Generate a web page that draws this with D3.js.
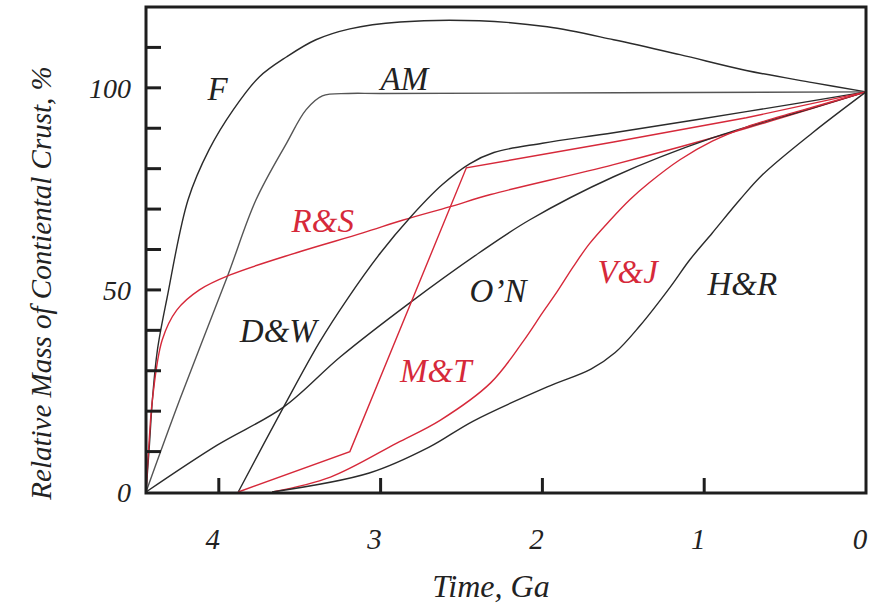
<!DOCTYPE html>
<html>
<head>
<meta charset="utf-8">
<title>Continental crust growth models</title>
<script src="https://d3js.org/d3.v7.min.js"></script>
<style>
  body { margin: 0; background: #fff; }
  text { font-family: "Liberation Serif", "Times New Roman", serif; font-style: italic; }
  .curve { fill: none; stroke-width: 1.4px; }
</style>
</head>
<body>
<script>
// growth curves, [time Ga, relative mass %]
var curveF = [[4.45,0],[4.43,11],[4.41,23],[4.38,35],[4.32,48],[4.19,72.3],[4.06,84.7],[3.91,94.6],[3.75,102.7],[3.58,107.7],[3.4,111.9],[3.19,114.6],[2.88,116.3],[2.39,116.6],[1.97,115.1],[1.56,111.9],[1.15,108.2],[0.74,104.3],[0.33,101.3],[0,99]];
var curveAM = [[4.45,0],[4.24,23],[3.95,53],[3.77,72.3],[3.58,86.4],[3.46,94.6],[3.36,98],[3.2,98.6],[3.0,98.6],[0,99]];
var curveRS = [[4.45,0],[4.43,13],[4.41,23],[4.35,37.6],[4.26,45],[4.12,50],[3.93,53.7],[3.52,59.2],[3.11,64.1],[2.86,67.3],[2.57,70.6],[2.32,73.6],[1.56,81],[0.74,90],[0,99]];
var curveDW = [[3.88,0],[3.6,21],[3.38,36.9],[3.21,47.5],[3.0,59.2],[2.82,67.8],[2.62,76],[2.45,81.2],[2.3,84],[2.0,86.3],[1.56,88.9],[0.74,94.1],[0,99]];
var curveON = [[4.45,0],[4.01,11.6],[3.6,21],[3.25,33.4],[2.82,46.8],[2.39,59.2],[2.08,67.3],[1.56,78],[0.95,87.6],[0.33,95],[0,99]];
var curveMT = [[3.88,0],[3.19,10],[2.47,80.2],[1.56,86.6],[0.74,92.6],[0,99]];
var curveVJ = [[3.67,0],[3.31,3.7],[2.9,12.1],[2.63,17.8],[2.32,27],[2.12,37.2],[2.0,44.3],[1.91,49.5],[1.81,55.7],[1.71,61.4],[1.58,67.3],[1.46,72.3],[1.34,76.5],[1.15,82.2],[0.95,86.8],[0.74,90.3],[0.53,92.9],[0.33,95.2],[0,99]];
var curveHR = [[3.67,0],[3.07,4.7],[2.7,11.1],[2.43,17.5],[1.97,26],[1.7,30.4],[1.55,34.5],[1.4,41],[1.21,50.7],[1.09,57.4],[0.95,64.1],[0.78,72.3],[0.64,78.5],[0.33,88.9],[0,99]];

var seriesNames = ["F", "AM", "R&S", "D&W", "O\u2019N", "M&T", "V&J", "H&R"];
var seriesData = [curveF, curveAM, curveRS, curveDW, curveON, curveMT, curveVJ, curveHR];
var seriesRed = [false, false, true, false, false, true, true, false];
// label anchor points [time, mass]
var labelPos = [[4.07,97],[3.0,99.5],[3.55,64.4],[3.87,37.1],[2.45,47],[2.88,27.2],[1.66,51.7],[0.98,48.8]];

var xTicks = [4, 3, 2, 1, 0];
var yMinorTicks = [10, 20, 30, 40, 50, 60, 70, 80, 90, 100, 110];
var yLabels = [0, 50, 100];

var W = 876, H = 604;
var x = d3.scaleLinear().domain([4.45, 0]).range([146, 866]);
var y = d3.scaleLinear().domain([0, 120]).range([492, 7]);

var svg = d3.select("body").append("svg")
    .attr("width", W)
    .attr("height", H);

// curves
var line = d3.line()
    .x(function(d) { return x(d[0]); })
    .y(function(d) { return y(d[1]); })
    .curve(d3.curveCatmullRom.alpha(0.5));
var straight = d3.line()
    .x(function(d) { return x(d[0]); })
    .y(function(d) { return y(d[1]); });

seriesData.forEach(function(s, i) {
  svg.append("path")
    .attr("class", "curve")
    .attr("d", seriesNames[i] == "M&T" ? straight(s) : line(s))
    .attr("stroke", seriesRed[i] ? "#d6293a" : (seriesNames[i] == "AM" ? "#555" : "#2b2b2b"));
});

// frame
svg.append("rect")
    .attr("x", x(4.45))
    .attr("y", y(120))
    .attr("width", x(0) - x(4.45))
    .attr("height", y(0) + 1 - y(120))
    .attr("fill", "none")
    .attr("stroke", "#1e1e1e")
    .attr("stroke-width", 3);

// y ticks (inward)
svg.selectAll(".ytick")
  .data(yMinorTicks)
  .enter().append("line")
    .attr("x1", x(4.45))
    .attr("x2", x(4.45) + 15)
    .attr("y1", function(d) { return y(d); })
    .attr("y2", function(d) { return y(d); })
    .attr("stroke", "#1e1e1e")
    .attr("stroke-width", 3);

svg.selectAll(".ylab")
  .data(yLabels)
  .enter().append("text")
    .attr("x", 131)
    .attr("y", function(d) { return y(d) + 10; })
    .attr("text-anchor", "end")
    .attr("font-size", 28)
    .attr("fill", "#222")
    .text(function(d) { return d; });

// x ticks (inward)
svg.selectAll(".xtick")
  .data(xTicks.filter(function(d) { return d > 0; }))
  .enter().append("line")
    .attr("x1", function(d) { return x(d); })
    .attr("x2", function(d) { return x(d); })
    .attr("y1", y(0) + 1)
    .attr("y2", y(0) - 14)
    .attr("stroke", "#1e1e1e")
    .attr("stroke-width", 3);

svg.selectAll(".xlab")
  .data(xTicks)
  .enter().append("text")
    .attr("x", function(d) { return x(d) - 6; })
    .attr("y", 549)
    .attr("text-anchor", "middle")
    .attr("font-size", 29)
    .attr("fill", "#222")
    .text(function(d) { return d; });

// axis titles
svg.append("text")
    .attr("x", 491)
    .attr("y", 597)
    .attr("text-anchor", "middle")
    .attr("font-size", 32)
    .attr("fill", "#222")
    .text("Time, Ga");

svg.append("text")
    .attr("transform", "translate(51,283) rotate(-90)")
    .attr("text-anchor", "middle")
    .attr("font-size", 29)
    .attr("fill", "#222")
    .text("Relative Mass of Contiental Crust, %");

// curve labels
svg.selectAll(".clab")
  .data(seriesNames)
  .enter().append("text")
    .attr("x", function(d, i) { return x(labelPos[i][0]); })
    .attr("y", function(d, i) { return y(labelPos[i][1]); })
    .attr("font-size", 33)
    .attr("fill", function(d, i) { return seriesRed[i] ? "#d6293a" : "#222"; })
    .text(function(d) { return d; });
</script>
</body>
</html>
